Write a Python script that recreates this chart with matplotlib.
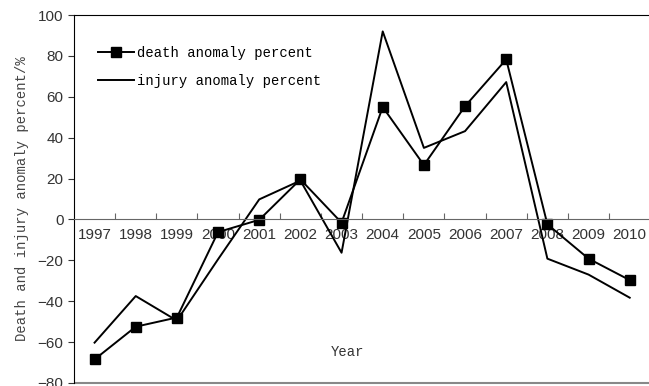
import matplotlib
matplotlib.use("Agg")
import matplotlib.pyplot as plt
import numpy as np

years = ["1997", "1998", "1999", "2000", "2001", "2002", "2003",
         "2004", "2005", "2006", "2007", "2008", "2009", "2010"]
death = [-68.5, -52.5, -48, -6.2, -0.2, 19.6, -1.6,
         55, 26.6, 55.4, 78.3, -2.4, -19.2, -29.7]
injury = [-60.3, -37.5, -49.5, -19.5, 9.8, 19, -16.3,
          92, 35, 43.2, 67.2, -19.2, -27, -38.3]

mono = ["Liberation Mono", "DejaVu Sans Mono"]
num_font = ["Liberation Sans", "DejaVu Sans"]

fig = plt.figure(figsize=(6.49, 3.86), dpi=100)
ax = fig.add_axes([0.114, 0.008, 0.888, 0.953])

x = np.arange(len(years)) + 0.5
ax.plot(x, death, color="black", lw=1.4, marker="s", ms=7,
        label="death anomaly percent")
ax.plot(x, injury, color="black", lw=1.4, label="injury anomaly percent")

ax.set_xlim(0, len(years))
ax.set_ylim(-80, 100)
ax.set_yticks(range(-80, 101, 20))

# category axis sits on the zero line, ticks at the category boundaries
ax.spines["bottom"].set_position(("data", 0))
ax.spines["bottom"].set_color("#666666")
ax.spines["right"].set_visible(False)
ax.set_xticks(np.arange(1, len(years)))
ax.set_xticklabels([])
ax.tick_params(axis="x", which="major", direction="in", length=4, color="#666666")
ax.set_xticks(x, minor=True)
ax.set_xticklabels(years, minor=True, fontfamily=num_font, fontsize=11, color="#333333")
ax.tick_params(axis="x", which="minor", length=0, pad=6)
ax.tick_params(axis="y", direction="out", length=4, labelsize=11, colors="#333333")
for t in ax.get_yticklabels():
    t.set_fontfamily(num_font)

ax.axhline(-80, color="#888888", lw=1.5, clip_on=False, solid_capstyle="butt")

ax.set_ylabel("Death and injury anomaly percent/%", fontfamily=mono,
              fontsize=10, color="#444444", labelpad=6)
ax.text(6.25, -67, "Year", fontfamily=mono, fontsize=10, color="#333333")

ax.legend(loc="upper left", bbox_to_anchor=(0.02, 0.95), frameon=False,
          prop={"family": mono, "size": 10}, handlelength=2.6,
          handletextpad=0.2, labelspacing=1.0)

fig.savefig("out.png", dpi=100)
